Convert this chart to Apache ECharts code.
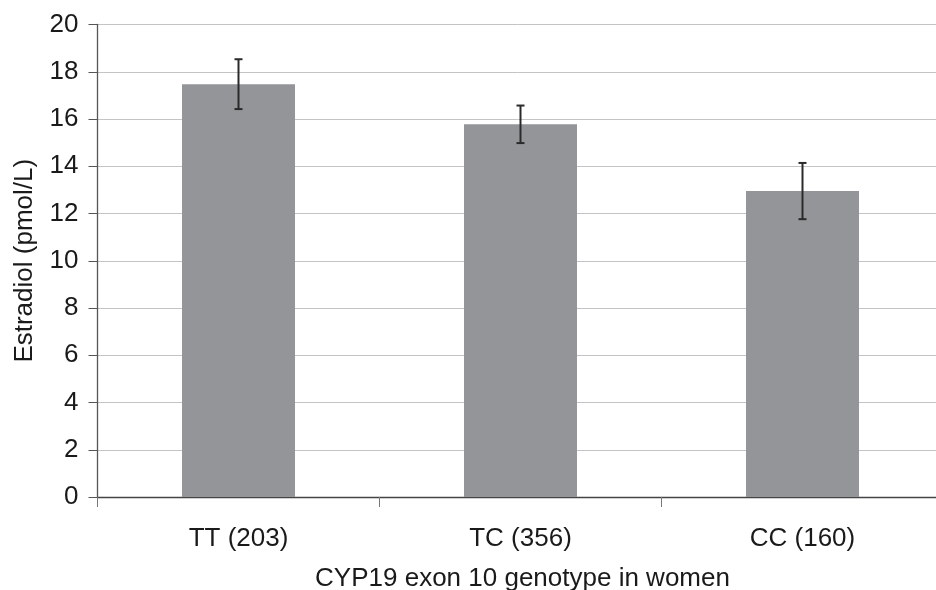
<!DOCTYPE html>
<html><head><meta charset="utf-8">
<script src="https://cdn.jsdelivr.net/npm/echarts@6/dist/echarts.min.js"></script>
<style>html,body{margin:0;padding:0;background:#fff}#c{width:936px;height:590px}</style>
</head><body><div id="c"></div>
<script>
const categories = ['TT (203)', 'TC (356)', 'CC (160)'];
const means = [17.47, 15.78, 12.95];
const errLow = [16.42, 14.98, 11.76];
const errHigh = [18.53, 16.57, 14.14];
const yTicks = [0, 2, 4, 6, 8, 10, 12, 14, 16, 18, 20];

const chart = echarts.init(document.getElementById('c'));
const font = 'Liberation Sans, Arial, sans-serif';
chart.setOption({
  animation: false,
  grid: { left: 97.5, top: 24.5, width: 846, bottom: 93, containLabel: false, outerBoundsMode: 'none' },
  xAxis: {
    type: 'category', data: categories,
    axisLine: { lineStyle: { color: '#444', width: 1.3 } },
    axisTick: { show: true, length: 10, alignWithLabel: false, lineStyle: { color: '#777' } },
    axisLabel: { color: '#1a1a1a', fontFamily: font, fontSize: 26, margin: 29 },
    name: 'CYP19 exon 10 genotype in women', nameLocation: 'middle', nameGap: 69,
    nameTextStyle: { color: '#1a1a1a', fontFamily: font, fontSize: 26, padding: [0, 0, 0, 4] }
  },
  yAxis: {
    type: 'value', min: yTicks[0], max: yTicks[yTicks.length - 1], interval: 2,
    axisLine: { show: true, lineStyle: { color: '#555', width: 1.3 } },
    axisTick: { show: true, length: 9, lineStyle: { color: '#555' } },
    axisLabel: { color: '#1a1a1a', fontFamily: font, fontSize: 26, margin: 19 },
    splitLine: { lineStyle: { color: '#c4c4c4', width: 1 } },
    name: 'Estradiol (pmol/L)', nameLocation: 'middle', nameGap: 60, nameRotate: 90,
    nameTextStyle: { color: '#1a1a1a', fontFamily: font, fontSize: 26 }
  },
  series: [
    { type: 'bar', data: means, barWidth: 113, itemStyle: { color: '#949599' } },
    {
      type: 'custom', z: 10,
      data: categories.map((c, i) => [i, errLow[i], errHigh[i]]),
      renderItem: function (params, api) {
        const x = api.value(0);
        const lo = api.coord([x, api.value(1)]);
        const hi = api.coord([x, api.value(2)]);
        const w = 4;
        const st = { stroke: '#2a2a2a', lineWidth: 2 };
        return { type: 'group', children: [
          { type: 'line', shape: { x1: lo[0], y1: lo[1], x2: hi[0], y2: hi[1] }, style: st },
          { type: 'line', shape: { x1: hi[0] - w, y1: hi[1], x2: hi[0] + w, y2: hi[1] }, style: st },
          { type: 'line', shape: { x1: lo[0] - w, y1: lo[1], x2: lo[0] + w, y2: lo[1] }, style: st }
        ]};
      }
    }
  ]
});
</script></body></html>
